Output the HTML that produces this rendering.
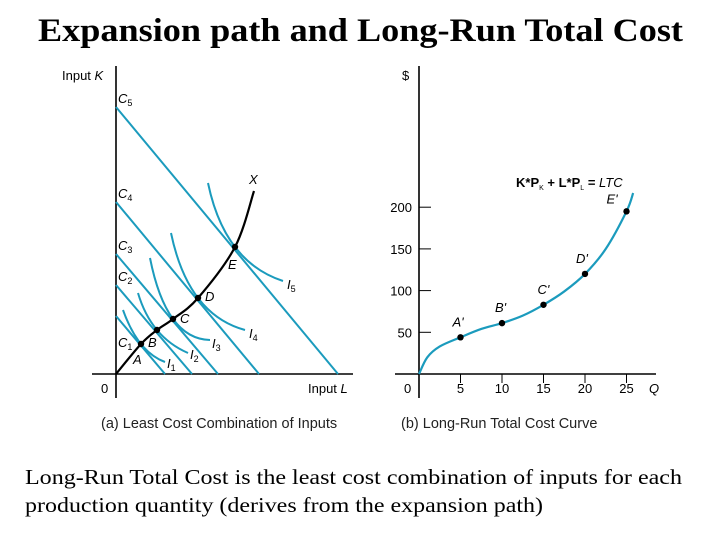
<!DOCTYPE html>
<html><head><meta charset="utf-8"><style>
html,body{margin:0;padding:0;background:#fff;}
svg{display:block;}
.s{font-family:"Liberation Sans",sans-serif;}
.r{font-family:"Liberation Serif",serif;}
</style></head><body>
<svg id="svg" width="720" height="540" viewBox="0 0 720 540" xmlns="http://www.w3.org/2000/svg">
<text class="r" x="38" y="41" font-size="33" font-weight="bold" textLength="645" lengthAdjust="spacingAndGlyphs">Expansion path and Long-Run Total Cost</text>
<g id="left"></g>
<g id="right"></g>
<text class="s" x="101" y="428" font-size="14.5" fill="#222">(a) Least Cost Combination of Inputs</text>
<text class="s" x="401" y="428" font-size="14.5" fill="#222">(b) Long-Run Total Cost Curve</text>
<text class="r" x="25" y="484" font-size="21.5" textLength="657" lengthAdjust="spacingAndGlyphs">Long-Run Total Cost is the least cost combination of inputs for each</text>
<text class="r" x="25" y="512" font-size="21.5" textLength="518" lengthAdjust="spacingAndGlyphs">production quantity (derives from the expansion path)</text>
</svg>
<script>
// ---- Left panel data (L,K units on a conceptual grid) ----
const budgetK = [58, 89, 120, 172, 267];   // K-intercepts C1..C5
const budgetL = [49, 76, 102, 143, 222];   // L-intercepts C1..C5
const pathL = [25, 41, 57, 82, 119];       // A..E
const pathK = [30, 44, 55, 76, 127];
const pathNames = ['A','B','C','D','E'];
const isoStartL = [7, 22, 34, 55, 92];
const isoStartK = [64, 81, 116, 141, 191];
const isoEndL = [49, 72, 94, 129, 167];
const isoEndK = [12, 21, 34, 44, 93];
// ---- Right panel data ----
const qTicks = [5, 10, 15, 20, 25];
const yTicks = [50, 100, 150, 200];
const ltcQ = [0, 1, 2.5, 5, 7.5, 10, 12.5, 15, 17.5, 20, 22.5, 25, 25.8];
const ltcV = [0, 20, 33, 44, 54, 61, 70, 83, 99, 120, 150, 195, 217];
const markQ = [5, 10, 15, 20, 25];
const markV = [44, 61, 83, 120, 195];
const markNames = ["A'", "B'", "C'", "D'", "E'"];

const NS = 'http://www.w3.org/2000/svg';
const TEAL = '#1b9bbd';
function mk(parent, tag, attrs, text) {
  const e = document.createElementNS(NS, tag);
  for (const k in attrs) e.setAttribute(k, attrs[k]);
  if (text !== undefined) e.textContent = text;
  parent.appendChild(e);
  return e;
}
// Left axes
const L = document.getElementById('left');
const ox = 116, oy = 374;
const lx = v => ox + v, ky = v => oy - v;
let e;
e = mk(L, 'line', {x1: ox, y1: 66, x2: ox, y2: 398, stroke: '#000', 'stroke-width': 1.6});
 
e = mk(L, 'line', {x1: 92, y1: oy, x2: 353, y2: oy, stroke: '#000', 'stroke-width': 1.6});
 
e = mk(L, 'text', {x: 62, y: 80, 'font-size': 13, class: 's'}, 'Input ');
 
mk(e, 'tspan', {'font-style': 'italic'}, 'K');
e = mk(L, 'text', {x: 308, y: 393, 'font-size': 13, class: 's'}, 'Input ');
 
mk(e, 'tspan', {'font-style': 'italic'}, 'L');
e = mk(L, 'text', {x: 101, y: 393, 'font-size': 13, class: 's'}, '0');
 
// budget lines
budgetK.forEach((k, i) => {
  const b = mk(L, 'line', {x1: lx(0), y1: ky(k), x2: lx(budgetL[i]), y2: ky(0), stroke: TEAL, 'stroke-width': 2});
   
  const t = mk(L, 'text', {x: lx(2), y: ky(k) - (i === 0 ? -31 : 4), 'font-size': 13, 'font-style': 'italic', class: 's'}, 'C');
   
  mk(t, 'tspan', {'font-size': 9, dy: 3, 'font-style': 'normal'}, String(i + 1));
});
// isoquants: smooth curve through start, tangent point, end
const isoLabDx = [2, 2, 2, 4, 4], isoLabDy = [6, 6, 8, 8, 8];
pathL.forEach((pl, i) => {
  const x0 = lx(isoStartL[i]), y0 = ky(isoStartK[i]);
  const x1 = lx(pl), y1 = ky(pathK[i]);
  const x2 = lx(isoEndL[i]), y2 = ky(isoEndK[i]);
  const cx = 2 * x1 - (x0 + x2) / 2, cy = 2 * y1 - (y0 + y2) / 2;
  const p = mk(L, 'path', {d: `M${x0},${y0} Q${cx},${cy} ${x2},${y2}`, fill: 'none', stroke: TEAL, 'stroke-width': 2});
   
  const t = mk(L, 'text', {x: x2 + isoLabDx[i], y: y2 + isoLabDy[i], 'font-size': 13, 'font-style': 'italic', class: 's'}, 'I');
   
  mk(t, 'tspan', {'font-size': 9, dy: 3, 'font-style': 'normal'}, String(i + 1));
});
// expansion path
let d = `M${lx(0)},${ky(0)}`;
const epL = [0].concat(pathL, [138]), epK = [0].concat(pathK, [183]);
for (let i = 1; i < epL.length; i++) {
  const p0 = [lx(epL[Math.max(i - 2, 0)]), ky(epK[Math.max(i - 2, 0)])];
  const p1 = [lx(epL[i - 1]), ky(epK[i - 1])];
  const p2 = [lx(epL[i]), ky(epK[i])];
  const p3 = [lx(epL[Math.min(i + 1, epL.length - 1)]), ky(epK[Math.min(i + 1, epK.length - 1)])];
  d += ` C${p1[0] + (p2[0] - p0[0]) / 6},${p1[1] + (p2[1] - p0[1]) / 6} ${p2[0] - (p3[0] - p1[0]) / 6},${p2[1] - (p3[1] - p1[1]) / 6} ${p2[0]},${p2[1]}`;
}
e = mk(L, 'path', {d: d, fill: 'none', stroke: '#000', 'stroke-width': 2.2});
 
e = mk(L, 'text', {x: 249, y: 184, 'font-size': 13, 'font-style': 'italic', class: 's'}, 'X');
 
const ptDx = [-8, -9, 7, 7, -7], ptDy = [20, 17, 4, 3, 22];
pathL.forEach((pl, i) => {
  const c = mk(L, 'circle', {cx: lx(pl), cy: ky(pathK[i]), r: 3.2, fill: '#000'});
   
  const t = mk(L, 'text', {x: lx(pl) + ptDx[i], y: ky(pathK[i]) + ptDy[i], 'font-size': 13, 'font-style': 'italic', class: 's'}, pathNames[i]);
   
});
// Right panel
const R = document.getElementById('right');
const rx0 = 419, ry0 = 374;
const qx = q => rx0 + q * 8.3;
const vy = v => ry0 - v * 0.834;
e = mk(R, 'line', {x1: rx0, y1: 66, x2: rx0, y2: 398, stroke: '#000', 'stroke-width': 1.6});
 
e = mk(R, 'line', {x1: 395, y1: ry0, x2: 656, y2: ry0, stroke: '#000', 'stroke-width': 1.6});
 
e = mk(R, 'text', {x: 402, y: 80, 'font-size': 13, class: 's'}, '$');
 
e = mk(R, 'text', {x: 649, y: 393, 'font-size': 13, 'font-style': 'italic', class: 's'}, 'Q');
 
e = mk(R, 'text', {x: 404, y: 393, 'font-size': 13, class: 's'}, '0');
 
qTicks.forEach(q => {
  const l = mk(R, 'line', {x1: qx(q), y1: ry0, x2: qx(q), y2: ry0 + 9, stroke: '#000', 'stroke-width': 1});
   
  const t = mk(R, 'text', {x: qx(q), y: 393, 'font-size': 13, 'text-anchor': 'middle', class: 's'}, String(q));
   
});
yTicks.forEach(v => {
  const l = mk(R, 'line', {x1: rx0, y1: vy(v), x2: rx0 + 12, y2: vy(v), stroke: '#000', 'stroke-width': 1});
   
  const t = mk(R, 'text', {x: 412, y: vy(v) + 5, 'font-size': 13, 'text-anchor': 'end', class: 's'}, String(v));
   
});
let d2 = `M${qx(ltcQ[0])},${vy(ltcV[0])}`;
for (let i = 1; i < ltcQ.length; i++) {
  const a = Math.max(i - 2, 0), b = Math.min(i + 1, ltcQ.length - 1);
  const p0 = [qx(ltcQ[a]), vy(ltcV[a])], p1 = [qx(ltcQ[i - 1]), vy(ltcV[i - 1])];
  const p2 = [qx(ltcQ[i]), vy(ltcV[i])], p3 = [qx(ltcQ[b]), vy(ltcV[b])];
  d2 += ` C${p1[0] + (p2[0] - p0[0]) / 6},${p1[1] + (p2[1] - p0[1]) / 6} ${p2[0] - (p3[0] - p1[0]) / 6},${p2[1] - (p3[1] - p1[1]) / 6} ${p2[0]},${p2[1]}`;
}
e = mk(R, 'path', {d: d2, fill: 'none', stroke: TEAL, 'stroke-width': 2.2});
 
const mDx = [-8, -7, -6, -9, -20], mDy = [-11, -11, -11, -11, -8];
markQ.forEach((q, i) => {
  const c = mk(R, 'circle', {cx: qx(q), cy: vy(markV[i]), r: 3.2, fill: '#000'});
   
  const t = mk(R, 'text', {x: qx(q) + mDx[i], y: vy(markV[i]) + mDy[i], 'font-size': 13, 'font-style': 'italic', class: 's'}, markNames[i]);
   
});
e = mk(R, 'text', {x: 516, y: 187, 'font-size': 13, 'font-weight': 'bold', class: 's'}, 'K*P');
 
mk(e, 'tspan', {'font-size': 7, 'font-weight': 'normal', dy: 3}, 'K');
mk(e, 'tspan', {dy: -3}, ' + L*P');
mk(e, 'tspan', {'font-size': 7, 'font-weight': 'normal', dy: 3}, 'L');
mk(e, 'tspan', {dy: -3}, ' =  ');
mk(e, 'tspan', {'font-style': 'italic', 'font-weight': 'normal'}, 'LTC');
</script>
</body></html>
